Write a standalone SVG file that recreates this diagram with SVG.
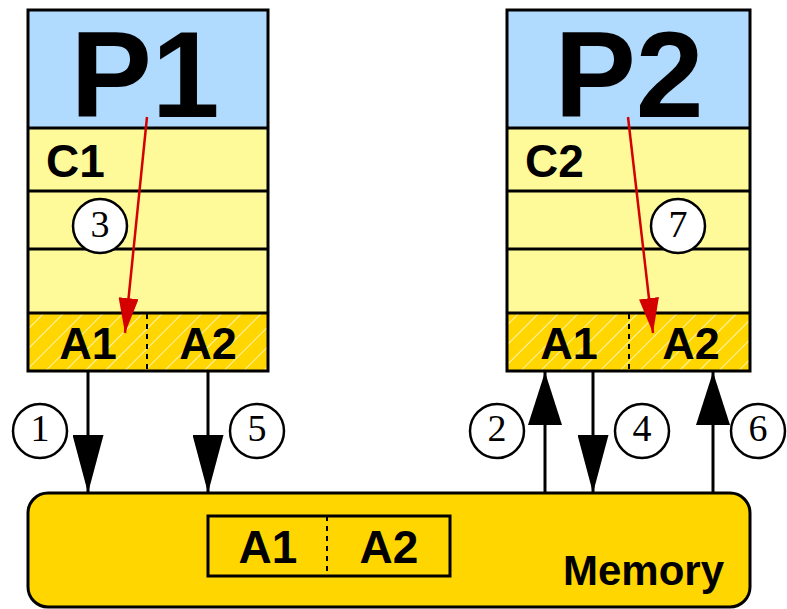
<svg xmlns="http://www.w3.org/2000/svg" width="787" height="609" viewBox="0 0 787 609">
<defs>
<style>
.hdr{fill:#b0dbff}
.row{fill:#fffa99}
.gold{fill:#ffd600}
.frame{fill:none;stroke:#000;stroke-width:3}
.sep{stroke:#000;stroke-width:3}
.dash{stroke:#000;stroke-width:2;stroke-dasharray:5 5}
.big{font-family:"Liberation Sans",Arial,sans-serif;font-weight:bold;font-size:122px;text-anchor:middle}
.lbl{font-family:"Liberation Sans",Arial,sans-serif;font-weight:bold;font-size:45px}
.mid{text-anchor:middle}
.num{font-family:"Liberation Serif","Times New Roman",serif;font-size:38px;text-anchor:middle}
.circ{fill:#fff;stroke:#000;stroke-width:2.5}
.conn{stroke:#000;stroke-width:3;fill:none}
.red{stroke:#d40000;stroke-width:2.5;fill:none}
</style>
<pattern id="hatch" patternUnits="userSpaceOnUse" width="14" height="14" patternTransform="rotate(45)">
<rect width="14" height="14" fill="#ffd600"/>
<line x1="0" y1="0" x2="0" y2="14" stroke="#fff3b0" stroke-width="2"/>
</pattern>
<marker id="down" markerUnits="userSpaceOnUse" viewBox="0 0 58 31" markerWidth="58" markerHeight="31" refX="58" refY="15.5" orient="auto">
<path d="M0,0 L58,15.5 L0,31 z" fill="#000"/>
</marker>
<marker id="up" markerUnits="userSpaceOnUse" viewBox="0 0 53 34" markerWidth="53" markerHeight="34" refX="53" refY="17" orient="auto">
<path d="M0,0 L53,17 L0,34 z" fill="#000"/>
</marker>
<marker id="redhead" markerUnits="userSpaceOnUse" viewBox="0 0 35 20" markerWidth="35" markerHeight="20" refX="35" refY="10" orient="auto">
<path d="M0,0 L35,10 L0,20 z" fill="#d40000"/>
</marker>
</defs>
<rect width="787" height="609" fill="#fff"/>

<g id="Memory">
<rect x="28" y="493" width="722" height="114" rx="20" ry="20" class="gold" stroke="#000" stroke-width="3"/>
<rect x="208" y="516" width="242" height="60" class="gold" stroke="#000" stroke-width="3"/>
<line x1="327" y1="516" x2="327" y2="576" class="dash"/>
<text x="268" y="563" class="lbl mid" style="font-size:46px">A1</text>
<text x="389" y="563" class="lbl mid" style="font-size:46px">A2</text>
<text x="724" y="585" class="lbl" style="font-size:42px;text-anchor:end">Memory</text>
</g>

<g id="connectors">
<line x1="88" y1="371" x2="88" y2="493" class="conn" marker-end="url(#down)"/>
<line x1="208" y1="371" x2="208" y2="493" class="conn" marker-end="url(#down)"/>
<line x1="593" y1="371" x2="593" y2="493" class="conn" marker-end="url(#down)"/>
<line x1="545" y1="493" x2="545" y2="372" class="conn" marker-end="url(#up)"/>
<line x1="713" y1="493" x2="713" y2="372" class="conn" marker-end="url(#up)"/>
</g>

<g id="P1">
<rect x="28" y="10" width="240" height="118" class="hdr"/>
<rect x="28" y="128" width="240" height="185" class="row"/>
<rect x="28" y="313" width="240" height="58" fill="url(#hatch)"/>
<line x1="28" y1="128" x2="268" y2="128" class="sep"/>
<line x1="28" y1="191" x2="268" y2="191" class="sep"/>
<line x1="28" y1="249" x2="268" y2="249" class="sep"/>
<line x1="28" y1="313" x2="268" y2="313" class="sep"/>
<line x1="147" y1="314" x2="147" y2="370" class="dash"/>
<rect x="28" y="10" width="240" height="361" class="frame"/>
<text x="145" y="117" class="big">P1</text>
<text x="46" y="177" class="lbl" style="font-size:46px">C1</text>
<text x="88" y="359" class="lbl mid">A1</text>
<text x="208" y="359" class="lbl mid">A2</text>
</g>

<g id="P2">
<rect x="507" y="10" width="243" height="118" class="hdr"/>
<rect x="507" y="128" width="243" height="185" class="row"/>
<rect x="507" y="313" width="243" height="58" fill="url(#hatch)"/>
<line x1="507" y1="128" x2="750" y2="128" class="sep"/>
<line x1="507" y1="191" x2="750" y2="191" class="sep"/>
<line x1="507" y1="249" x2="750" y2="249" class="sep"/>
<line x1="507" y1="313" x2="750" y2="313" class="sep"/>
<line x1="629" y1="314" x2="629" y2="370" class="dash"/>
<rect x="507" y="10" width="243" height="361" class="frame"/>
<text x="629" y="117" class="big">P2</text>
<text x="525" y="177" class="lbl" style="font-size:46px">C2</text>
<text x="569" y="359" class="lbl mid">A1</text>
<text x="691" y="359" class="lbl mid">A2</text>
</g>

<g id="access-arrows">
<line x1="147" y1="117" x2="125" y2="333" class="red" marker-end="url(#redhead)"/>
<line x1="628" y1="117" x2="653" y2="333" class="red" marker-end="url(#redhead)"/>
</g>

<g id="step1"><circle cx="40" cy="431" r="27" class="circ"/><text x="40" y="441" class="num">1</text></g>
<g id="step2"><circle cx="497" cy="431" r="27" class="circ"/><text x="497" y="441" class="num">2</text></g>
<g id="step3"><circle cx="100" cy="226" r="27" class="circ"/><text x="100" y="237" class="num">3</text></g>
<g id="step4"><circle cx="642" cy="431" r="27" class="circ"/><text x="642" y="441" class="num">4</text></g>
<g id="step5"><circle cx="257" cy="431" r="27" class="circ"/><text x="257" y="441" class="num">5</text></g>
<g id="step6"><circle cx="758" cy="431" r="27" class="circ"/><text x="758" y="441" class="num">6</text></g>
<g id="step7"><circle cx="678" cy="226" r="27" class="circ"/><text x="678" y="237" class="num">7</text></g>
</svg>
